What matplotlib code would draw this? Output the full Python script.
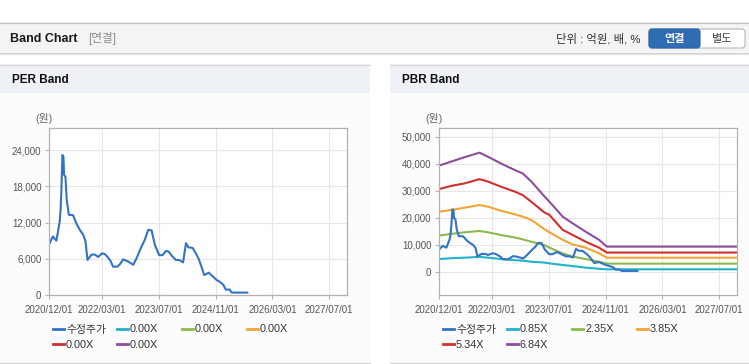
import matplotlib
matplotlib.use('Agg')
import matplotlib.pyplot as plt
import matplotlib.dates as mdates
import matplotlib.patches as patches
import pandas as pd

plt.rcParams['font.family'] = ['Liberation Sans', 'Noto Sans CJK KR']

W, H = 749, 364

# adjusted close price (수정주가)
price_dates = [
    "2020-12-01", "2020-12-21", "2021-01-04", "2021-01-19", "2021-02-02", "2021-02-17",
    "2021-03-03", "2021-03-11", "2021-03-17", "2021-03-26", "2021-04-04", "2021-04-09",
    "2021-04-21", "2021-05-02", "2021-05-20", "2021-06-26", "2021-07-25", "2021-08-22",
    "2021-09-20", "2021-10-10", "2021-10-27", "2021-12-01", "2021-12-29", "2022-01-27",
    "2022-03-01", "2022-03-24", "2022-04-22", "2022-05-14", "2022-06-03", "2022-07-11",
    "2022-08-01", "2022-08-29", "2022-10-06", "2022-11-24", "2022-12-22", "2023-02-04",
    "2023-03-04", "2023-04-01", "2023-04-30", "2023-05-28", "2023-07-04", "2023-08-01",
    "2023-09-01", "2023-09-22", "2023-10-25", "2023-11-25", "2023-12-22", "2024-01-25",
    "2024-02-19", "2024-03-10", "2024-04-16", "2024-05-13", "2024-06-04", "2024-06-25",
    "2024-07-25", "2024-09-01", "2024-10-04", "2024-11-07", "2024-12-04", "2025-01-04",
    "2025-01-25", "2025-02-28", "2025-03-17", "2025-07-29",
]
price = [
    8300, 9200, 9700, 9300, 9000, 10600,
    12200, 14400, 17200, 23200, 22900, 19900,
    19600, 15800, 13300, 13200, 11800, 10800,
    10000, 8900, 5800, 6700, 6700, 6300,
    6900, 6800, 6200, 5600, 4700, 4700,
    5100, 5900, 5600, 5000, 6100, 8100,
    9200, 10800, 10700, 8300, 6600, 6600,
    7300, 7200, 6400, 5800, 5800, 5400,
    8600, 7900, 7800, 6900, 6100, 5000,
    3300, 3700, 3100, 2500, 2200, 1700,
    900, 900, 400, 400,
]

# PBR band lines
band_dates = [
    "2020-12-01", "2021-03-16", "2021-07-07", "2021-11-13", "2022-01-25", "2022-05-16",
    "2022-09-10", "2022-11-19", "2023-02-01", "2023-05-22", "2023-07-07", "2023-10-28",
    "2024-01-22", "2024-05-13", "2024-09-04", "2024-11-10", "2027-12-01",
]
pbr_085 = [4800, 5100, 5300, 5600, 5300, 4800, 4400, 4200, 3800, 3500, 3200, 2600,
           2200, 1600, 1200, 1000, 1000]
pbr_235 = [13500, 14100, 14700, 15200, 14700, 13700, 12800, 12100, 11200, 10000, 9000, 6900,
           5700, 4800, 3800, 3100, 3100]
pbr_385 = [22300, 23000, 23800, 24800, 24200, 22700, 21400, 20500, 19300, 15900, 14700, 11900,
           10200, 9000, 6900, 5300, 5300]
pbr_534 = [30700, 31900, 32800, 34400, 33500, 31600, 29800, 28500, 26000, 22100, 21100, 15600,
           13700, 11200, 9000, 7200, 7200]
pbr_684 = [39400, 40900, 42500, 44200, 42700, 40200, 37800, 36500, 33500, 28100, 26000, 20500,
           18000, 14900, 11900, 9400, 9400]

per_labels = ["수정주가", "0.00X", "0.00X", "0.00X", "0.00X", "0.00X"]
pbr_labels = ["수정주가", "0.85X", "2.35X", "3.85X", "5.34X", "6.84X"]
x_ticks = ["2020-12-01", "2022-03-01", "2023-07-01", "2024-11-01", "2026-03-01", "2027-07-01"]
per_yticks = [0, 6000, 12000, 18000, 24000]
pbr_yticks = [0, 10000, 20000, 30000, 40000, 50000]

COLORS = ['#3373c6', '#22b2c9', '#8cb84e', '#f2a435', '#d0302d', '#8d4d9e']

fig = plt.figure(figsize=(W / 100, H / 100), dpi=100)
fig.patch.set_facecolor('white')

# background layer in pixel coordinates
bg = fig.add_axes([0, 0, 1, 1])
bg.set_xlim(0, W)
bg.set_ylim(H, 0)
bg.axis('off')

# top header
bg.add_patch(patches.Rectangle((0, 22), W, 30, fc='#f4f4f4', ec='none'))
bg.plot([0, W], [22.5, 22.5], color='#c4c4c4', lw=0.9)
bg.plot([0, W], [52.5, 52.5], color='#cdcdcd', lw=0.9)
bg.plot([0, W], [53.5, 53.5], color='#e6e6e6', lw=0.9)
bg.text(10, 38.5, "Band Chart", fontsize=9, fontweight='bold', color='#1a1a1a', va='center')
bg.text(88, 38.5, "[연결]", fontsize=8.4, color='#8a8a8a', va='center')
bg.text(641, 39, "단위 : 억원, 배, %", fontsize=8.2, color='#333333', va='center', ha='right')

# 연결 / 별도 toggle
bg.add_patch(patches.FancyBboxPatch((649, 29), 96, 19, boxstyle="round,pad=0,rounding_size=3",
                                    fc='white', ec='#b8b8b8', lw=0.8))
bg.add_patch(patches.FancyBboxPatch((649, 29), 51, 19, boxstyle="round,pad=0,rounding_size=3",
                                    fc='#2e6db4', ec='#2a63a5', lw=0.8))
bg.text(674.5, 38.8, "연결", fontsize=8, fontweight='bold', color='white', ha='center', va='center')
bg.text(722.5, 38.8, "별도", fontsize=8, color='#444444', ha='center', va='center')

# panels
for x0, x1, title in [(0, 370, "PER Band"), (390, 749, "PBR Band")]:
    bg.add_patch(patches.Rectangle((x0, 93), x1 - x0, 270, fc='#fcfcfc', ec='none'))
    bg.add_patch(patches.Rectangle((x0, 64), x1 - x0, 29, fc='#eef2f7', ec='none'))
    bg.plot([x0, x1], [64.5, 64.5], color='#d8d8d8', lw=0.9)
    bg.plot([x0, x1], [363, 363], color='#d4d4d4', lw=0.9)
    bg.text(x0 + 12, 80, title, fontsize=8.5, fontweight='bold', color='#111111', va='center')


def make_axes(left_px, yticks, ylim):
    ax = fig.add_axes([left_px / W, 1 - 295 / H, 298 / W, 167 / H])
    ax.set_facecolor('white')
    ax.set_xlim(pd.Timestamp("2020-12-01"), pd.Timestamp("2027-12-01"))
    ax.set_ylim(*ylim)
    ax.set_xticks(pd.to_datetime(x_ticks))
    ax.xaxis.set_major_formatter(mdates.DateFormatter('%Y/%m/%d'))
    ax.set_yticks(yticks)
    ax.set_yticklabels([f"{v:,}" for v in yticks])
    ax.grid(True, color='#e6e6e6', lw=0.8)
    ax.set_axisbelow(True)
    for sp in ax.spines.values():
        sp.set_color('#b3b3b3')
        sp.set_linewidth(0.9)
    ax.tick_params(labelsize=7, labelcolor='#555555', color='#b3b3b3', length=3, width=0.8, pad=2.5)
    ax.tick_params(axis='x', pad=4)
    bg.text(left_px - 5, 118, "(원)", fontsize=7.8, color='#666666', ha='center', va='center')
    return ax


def draw_legend(left_px, labels):
    offsets = [4, 68, 133, 198]
    for i, (lab, col) in enumerate(zip(labels, COLORS)):
        row, colno = divmod(i, 4)
        x = left_px + offsets[colno]
        y = 329 + row * 15
        bg.plot([x, x + 11], [y, y], color=col, lw=2)
        bg.text(x + 13, y + 0.5, lab, fontsize=7.8, color='#333333', va='center')


pdates = pd.to_datetime(price_dates)
bdates = pd.to_datetime(band_dates)

# PER band
ax1 = make_axes(49, per_yticks, (0, 27667))
ax1.plot(pdates, price, color=COLORS[0], lw=1.5)
draw_legend(49, per_labels)

# PBR band
ax2 = make_axes(439, pbr_yticks, (-8519, 53333))
for vals, col in zip([pbr_085, pbr_235, pbr_385, pbr_534, pbr_684], COLORS[1:]):
    ax2.plot(bdates, vals, color=col, lw=1.5)
ax2.plot(pdates, price, color=COLORS[0], lw=1.5)
draw_legend(439, pbr_labels)

fig.savefig("out.png", dpi=100)
